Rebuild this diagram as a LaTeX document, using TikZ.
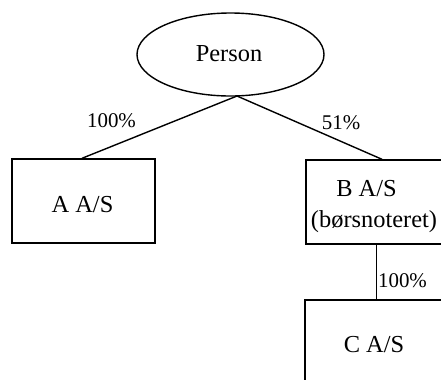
\documentclass[tikz,border=0pt]{standalone}
\usepackage{fontspec}
\setmainfont{Liberation Serif}
\usetikzlibrary{shapes.geometric}
\tikzset{
  conn/.style={line width=1.4bp, black},
  boxshape/.style={draw, line width=1.4bp, rectangle, inner sep=0pt, minimum width=143bp, minimum height=84bp},
  maintext/.style={inner sep=0pt, font=\fontsize{24.5}{28}\selectfont},
  pct/.style={inner sep=0pt, font=\fontsize{21}{24}\selectfont},
}
\begin{document}
\begin{tikzpicture}[x=1bp, y=-1bp]
\clip (0,0) rectangle (441,379);
\fill[white] (0,0) rectangle (441,379);
% nodes
\node[draw, ellipse, line width=1.4bp, inner sep=0pt, minimum width=187bp, minimum height=83bp] (person) at (230.5,54.5) {};
\node[maintext] (persontxt) at (229,54) {Person};
\node[boxshape] (A) at (83.5,201) {};
\node[maintext] (Atxt) at (82.5,204.5) {A A/S};
\node[boxshape] (B) at (377.5,202) {};
\node[maintext] (Btxt) at (366.5,188.5) {B A/S};
\node[maintext] (Btxt2) at (374,222) {(børsnoteret)};
\node[boxshape, minimum height=140bp] (C) at (376.5,370) {};
\node[maintext] (Ctxt) at (374,344.5) {C A/S};
\coordinate (pbot) at (237,96);
% connectors
\draw[conn] (pbot) -- (A.north -| 82,0);
\draw[conn] (pbot) -- (B.north -| 382,0);
\draw[conn] (B.south -| 376.5,0) -- (C.north -| 376.5,0);
% labels
\node[pct] (l1) at (111.5,121) {100\%};
\node[pct] (l2) at (341,122.5) {51\%};
\node[pct] (l3) at (402.5,281) {100\%};
\end{tikzpicture}
\end{document}
